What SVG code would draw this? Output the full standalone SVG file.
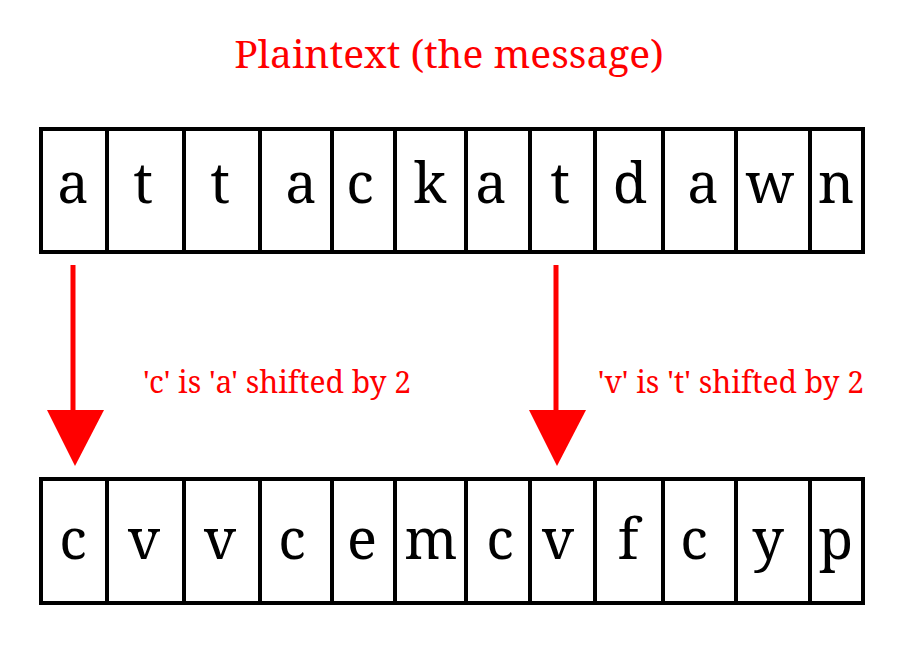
<svg xmlns="http://www.w3.org/2000/svg" width="900" height="670" viewBox="0 0 900 670">
<style>
.cell{fill:#fff;stroke:#000;stroke-width:4}
.div{stroke:#000;stroke-width:4}
.ch{font-family:"Noto Serif","DejaVu Serif","Liberation Serif",serif;font-size:56px;fill:#000;text-anchor:middle}
.red{font-family:"Noto Serif","DejaVu Serif","Liberation Serif",serif;fill:#f00;text-anchor:middle}
.arr{stroke:#f00;stroke-width:5;fill:none}
</style>
<rect width="900" height="670" fill="#fff"/>
<text class="red" x="449" y="68" font-size="39">Plaintext (the message)</text>
<g id="plaintext">
<rect class="cell" x="41" y="129" width="822" height="123"/>
<path class="div" d="M107 129V252M184 129V252M260 129V252M332 129V252M395 129V252M466 129V252M530 129V252M595 129V252M663 129V252M736 129V252M810 129V252"/>
<text class="ch" y="203"><tspan x="73">a</tspan><tspan x="143">t</tspan><tspan x="220">t</tspan><tspan x="301">a</tspan><tspan x="360">c</tspan><tspan x="430">k</tspan><tspan x="491">a</tspan><tspan x="560">t</tspan><tspan x="630">d</tspan><tspan x="703">a</tspan><tspan x="770">w</tspan><tspan x="836">n</tspan></text>
</g>
<g id="ciphertext">
<rect class="cell" x="41" y="479" width="822" height="124"/>
<path class="div" d="M107 479V603M184 479V603M260 479V603M332 479V603M395 479V603M466 479V603M530 479V603M595 479V603M663 479V603M736 479V603M810 479V603"/>
<text class="ch" y="559"><tspan x="73">c</tspan><tspan x="144">v</tspan><tspan x="220">v</tspan><tspan x="292">c</tspan><tspan x="362">e</tspan><tspan x="431">m</tspan><tspan x="500">c</tspan><tspan x="558">v</tspan><tspan x="628">f</tspan><tspan x="694">c</tspan><tspan x="768">y</tspan><tspan x="836">p</tspan></text>
</g>
<g id="connectors">
<line class="arr" x1="73" y1="265" x2="73" y2="412"/>
<polygon points="47,410 104,410 75,466" fill="#f00"/>
<line class="arr" x1="556" y1="265" x2="556" y2="412"/>
<polygon points="529,410 586,410 557,466" fill="#f00"/>
</g>
<text class="red" x="277" y="393" font-size="30">'c' is 'a' shifted by 2</text>
<text class="red" x="731" y="393" font-size="30">'v' is 't' shifted by 2</text>
</svg>
